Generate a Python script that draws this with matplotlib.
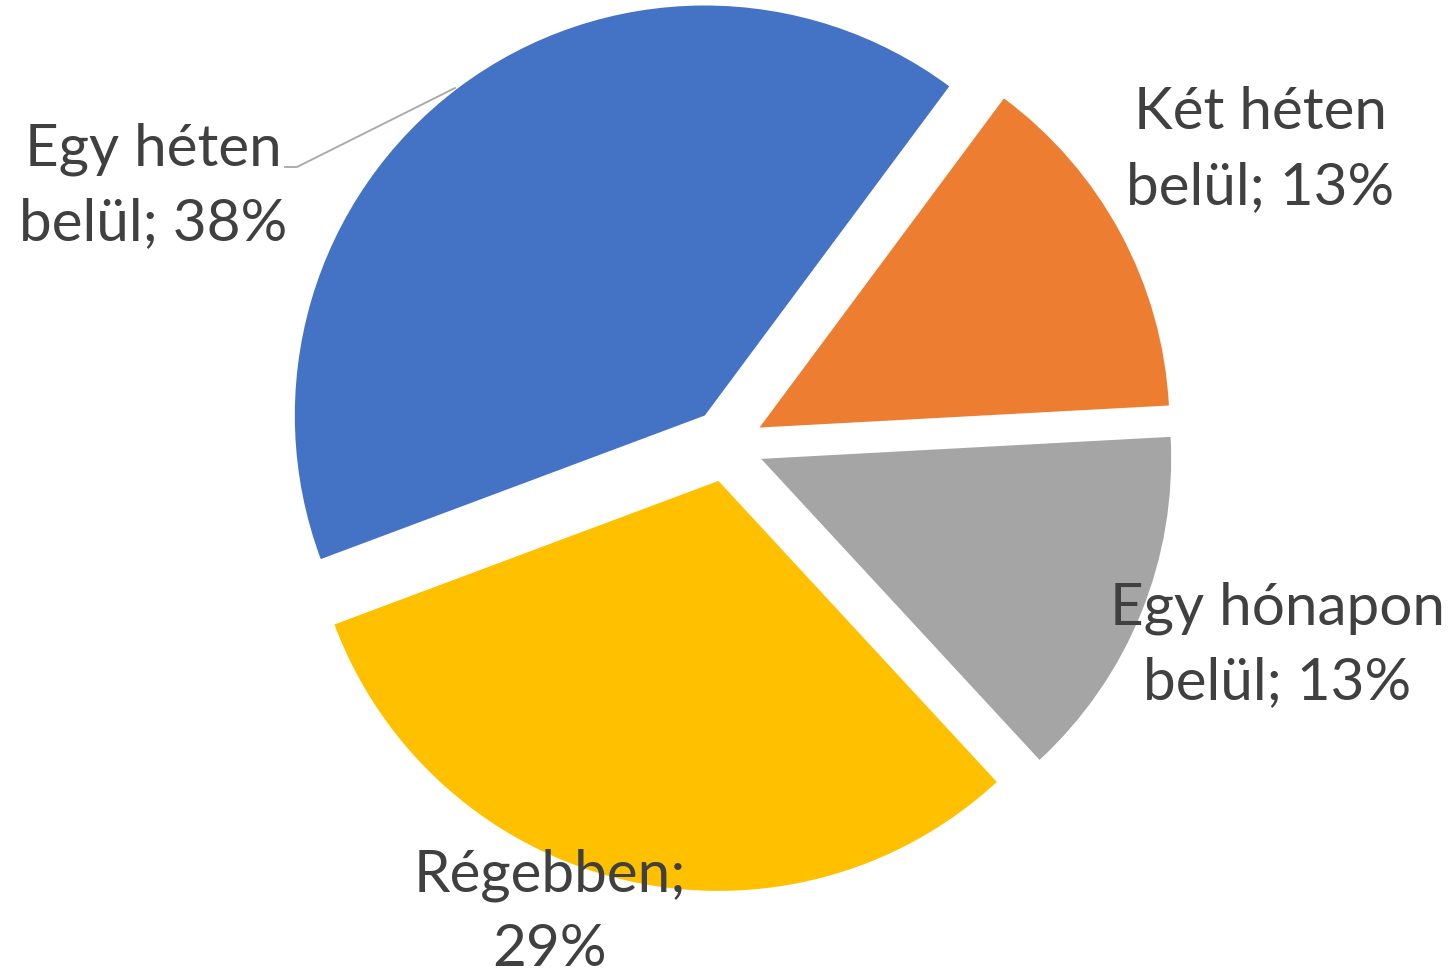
import matplotlib.pyplot as plt

labels = ["Egy héten\nbelül; 38%", "Két héten\nbelül; 13%", "Egy hónapon\nbelül; 13%", "Régebben;\n29%"]
values = [38, 13, 13, 29]
colors = ["#4472C4", "#ED7D31", "#A5A5A5", "#FFC000"]

# label centres in pixels (x from left, y from top)
label_px = [(153, 186), (1260, 150), (1277, 645), (550, 912)]

W, H = 1453, 976
cx, cy, R = 727, 445, 410  # pie centre and radius in pixels


def to_data(px, py):
    return (px - cx) / R, (cy - py) / R


fig = plt.figure(figsize=(W / 100, H / 100), dpi=100)
ax = fig.add_axes([0, 0, 1, 1])

ax.pie(values, colors=colors, startangle=200.5, counterclock=False,
       explode=[0.09] * 4, radius=1.0, wedgeprops=dict(linewidth=0))

for lab, (px, py) in zip(labels, label_px):
    x, y = to_data(px, py)
    ax.text(x, y, lab, ha="center", va="center", fontsize=42, family="Lato",
            color="#404040", linespacing=1.5)

# leader line for the first label
lx = [to_data(285, 167)[0], to_data(297, 167)[0], to_data(455, 88)[0]]
ly = [to_data(285, 167)[1], to_data(297, 167)[1], to_data(455, 88)[1]]
ax.plot(lx, ly, color="#A6A6A6", lw=1.3)

ax.set_xlim(-cx / R, (W - cx) / R)
ax.set_ylim((cy - H) / R, cy / R)
ax.set_aspect("auto")
ax.axis("off")

fig.savefig("out.png", dpi=100)
